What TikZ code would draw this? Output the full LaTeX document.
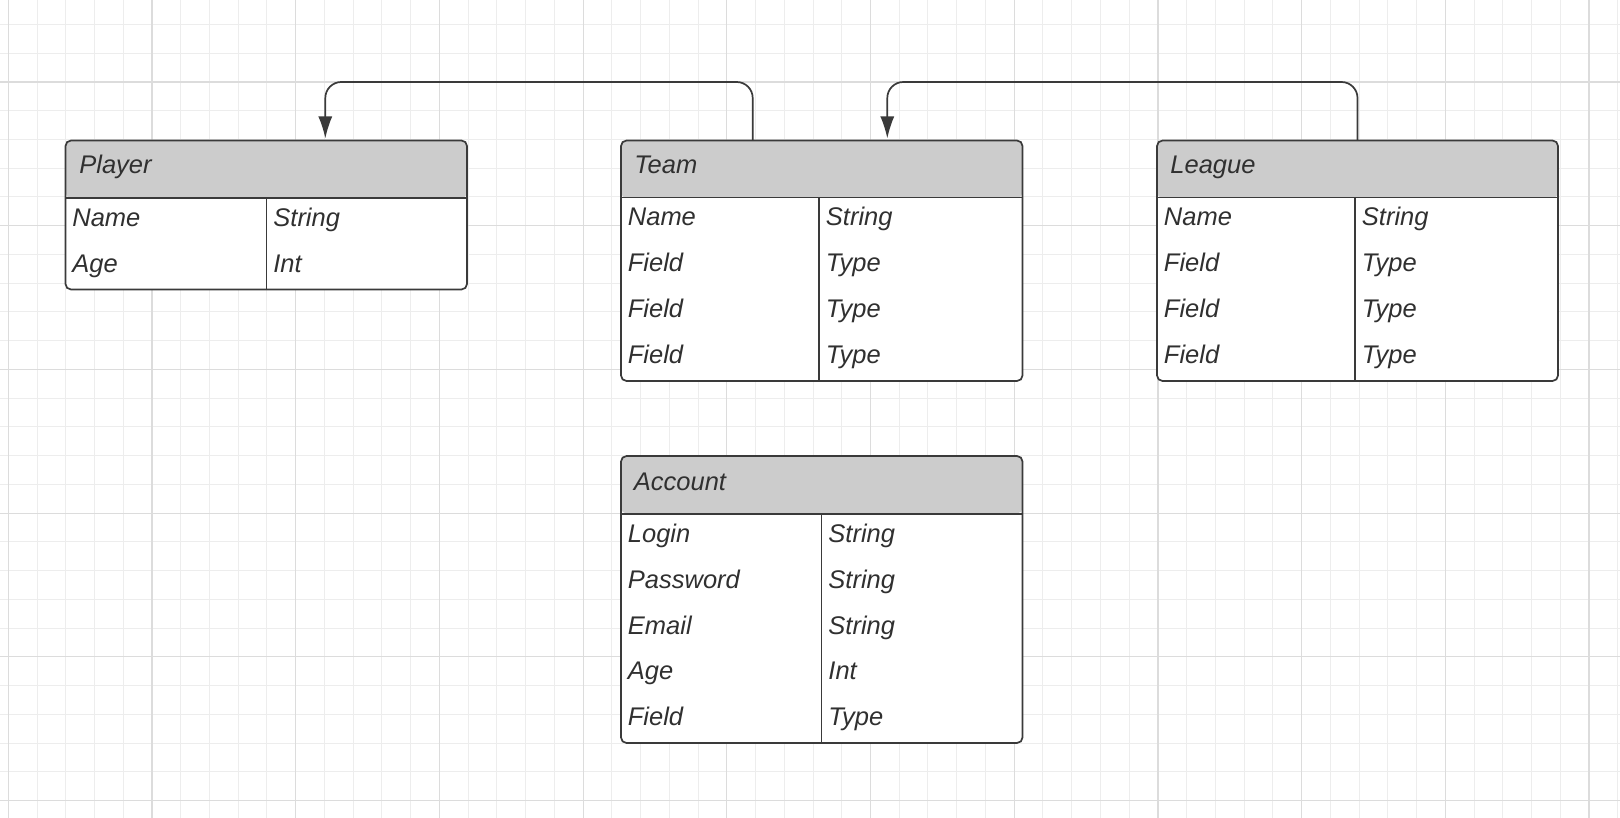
\documentclass[tikz,border=0pt]{standalone}
\usepackage{fontspec}
\setmainfont{Liberation Sans}
\usetikzlibrary{arrows.meta,calc}
\definecolor{gridminor}{HTML}{EDEDED}
\definecolor{gridmajor}{HTML}{DCDCDC}
\definecolor{boxcol}{HTML}{3A3A3A}
\definecolor{headcol}{HTML}{CCCCCC}
\definecolor{txtcol}{HTML}{303030}
\newcommand{\tabrows}[5]{%
  \foreach \f/\t [count=\k from 0] in {#5} {
    \node[cell] (#1-f\k) at ({#2+6.5},{#4+28.5+45.8*\k}) {\f};
    \node[cell] (#1-t\k) at ({#3+6.5},{#4+28.5+45.8*\k}) {\t};
  }}
\begin{document}
\begin{tikzpicture}[x=0.5pt,y=-0.5pt,
  gridmin/.style={draw=gridminor, line width=0.5pt},
  gridmaj/.style={draw=gridmajor, line width=0.6pt},
  tbl/.style={draw=boxcol, fill=white, line width=0.85pt, rounded corners=2.75pt, inner sep=0pt, outer sep=0pt, anchor=north west,
    path picture={\fill[headcol] (path picture bounding box.north west) rectangle ([yshift=-28.75pt]path picture bounding box.north east);}},
  sep/.style={draw=boxcol, line width=0.85pt},
  ttl/.style={anchor=base west, inner sep=0pt, text=txtcol, font=\fontsize{12.75}{15}\selectfont\itshape},
  cell/.style={ttl},
  conn/.style={draw=boxcol, line width=0.85pt, rounded corners=8pt, -{Latex[length=11pt,width=7pt]}, shorten >=1pt}]
\useasboundingbox (0,0) rectangle (1620,818);
\fill[white] (0,0) rectangle (1620,818);
% grid
\foreach \i in {0,...,56} { \draw[gridmin] ({8.3+28.74*\i},0) -- ({8.3+28.74*\i},818); }
\foreach \j in {0,...,27} { \draw[gridmin] (0,{24.5+28.74*\j}) -- (1620,{24.5+28.74*\j}); }
\foreach \i in {0,...,11} { \draw[gridmaj] ({8.3+143.7*\i},0) -- ({8.3+143.7*\i},818); }
\foreach \j in {0,...,5} { \draw[gridmaj] (0,{82+143.7*\j}) -- (1620,{82+143.7*\j}); }

% Player
\node[tbl, minimum width=200.75pt, minimum height=74.5pt] (player) at (65.5,140.5) {};
\draw[sep] (65.5,198) -- (467,198);
\draw[sep] (266.5,198) -- (266.5,289.5);
\node[ttl] (player-title) at (79,174) {Player};
\tabrows{player}{65.5}{266.5}{198}{Name/String,Age/Int}

% Team
\node[tbl, minimum width=200.75pt, minimum height=120.25pt] (team) at (621,140.5) {};
\draw[sep] (621,197.5) -- (1022.5,197.5);
\draw[sep] (819,197.5) -- (819,381);
\node[ttl] (team-title) at (634,174) {Team};
\tabrows{team}{621}{819}{197.5}{Name/String,Field/Type,Field/Type,Field/Type}

% League
\node[tbl, minimum width=200.5pt, minimum height=120.25pt] (league) at (1157,140.5) {};
\draw[sep] (1157,197.5) -- (1558,197.5);
\draw[sep] (1355,197.5) -- (1355,381);
\node[ttl] (league-title) at (1170,174) {League};
\tabrows{league}{1157}{1355}{197.5}{Name/String,Field/Type,Field/Type,Field/Type}

% Account
\node[tbl, minimum width=200.75pt, minimum height=143.5pt] (account) at (621,456) {};
\draw[sep] (621,514) -- (1022.5,514);
\draw[sep] (821.5,514) -- (821.5,743);
\node[ttl] (account-title) at (633.5,490) {Account};
\tabrows{account}{621}{821.5}{514}{Login/String,Password/String,Email/String,Age/Int,Field/Type}

% connectors
\draw[conn] ($(team.north west)+(131.7,0)$) -- ++(0,-58.5) -| ($(player.north west)+(259.8,0)$);
\draw[conn] (league.north) -- ++(0,-58.5) -| ($(team.north west)+(266.3,0)$);
\end{tikzpicture}
\end{document}
